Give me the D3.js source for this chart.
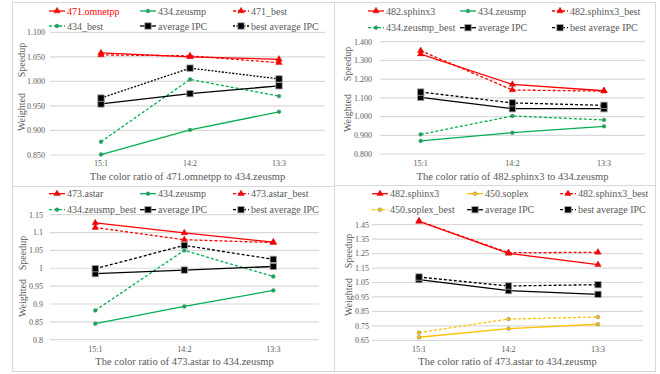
<!DOCTYPE html>
<html>
<head>
<meta charset="utf-8">
<script src="https://cdn.jsdelivr.net/npm/d3@7/dist/d3.min.js"></script>
<style>
  body { margin: 0; background: #fff; }
</style>
</head>
<body>
<svg id="chart" width="660" height="374"></svg>
<script>
// categories shared by all four panels
const cats = ['15:1', '14:2', '13:3'];

// panel 1: 471.omnetpp vs 434.zeusmp
const p1Omnetpp = [1.058, 1.050, 1.045];
const p1Zeusmp = [0.851, 0.901, 0.938];
const p1OmnetppBest = [1.054, 1.052, 1.038];
const p1ZeusmpBest = [0.877, 1.004, 0.970];
const p1Avg = [0.954, 0.975, 0.991];
const p1BestAvg = [0.966, 1.027, 1.005];
const p1Ticks = [0.85, 0.9, 0.95, 1.0, 1.05, 1.1];

// panel 2: 482.sphinx3 vs 434.zeusmp
const p2Sphinx = [1.334, 1.172, 1.138];
const p2Zeusmp = [0.870, 0.914, 0.948];
const p2SphinxBest = [1.352, 1.142, 1.136];
const p2ZeusmpBest = [0.905, 1.003, 0.982];
const p2Avg = [1.103, 1.042, 1.042];
const p2BestAvg = [1.131, 1.073, 1.060];
const p2Ticks = [0.8, 0.9, 1.0, 1.1, 1.2, 1.3, 1.4];

// panel 3: 473.astar vs 434.zeusmp
const p3Astar = [1.127, 1.099, 1.073];
const p3Zeusmp = [0.845, 0.893, 0.938];
const p3AstarBest = [1.114, 1.080, 1.072];
const p3ZeusmpBest = [0.882, 1.050, 0.977];
const p3Avg = [0.985, 0.995, 1.005];
const p3BestAvg = [0.999, 1.064, 1.025];
const p3Ticks = [0.8, 0.85, 0.9, 0.95, 1.0, 1.05, 1.1, 1.15];

// panel 4: 482.sphinx3 vs 450.soplex
const p4Sphinx = [1.473, 1.252, 1.173];
const p4Soplex = [0.671, 0.731, 0.761];
const p4SphinxBest = [1.475, 1.256, 1.259];
const p4SoplexBest = [0.703, 0.797, 0.811];
const p4Avg = [1.070, 0.994, 0.968];
const p4BestAvg = [1.088, 1.026, 1.035];
const p4Ticks = [0.65, 0.75, 0.85, 0.95, 1.05, 1.15, 1.25, 1.35, 1.45];

const RED = '#ff0000', GREEN = '#00b050', YELLOW = '#ffc000', BLACK = '#000000';
const GRAY = '#595959';
const FONT = "'Liberation Serif', 'Times New Roman', serif";

const panels = [
  {
    box: [12, 2, 322, 184], grid: [50, 325], cat: [101, 279], y: [155, 32.3],
    ticks: p1Ticks, fmt: d3.format('.3f'), tickX: 45, catY: 166, titleY: 180,
    yTitleX: 21, weightedY: 112, speedupY: 60,
    title: 'The color ratio of 471.omnetpp to 434.zeusmp',
    legX: [49, 140, 233], legY: [11, 26],
    series: [
      { name: '471.omnetpp', values: p1Omnetpp, color: RED, dash: null, mark: 'tri', labelColor: RED },
      { name: '434.zeusmp', values: p1Zeusmp, color: GREEN, dash: null, mark: 'dot' },
      { name: '471_best', values: p1OmnetppBest, color: RED, dash: '3,2', mark: 'tri' },
      { name: '434_best', values: p1ZeusmpBest, color: GREEN, dash: '3,2', mark: 'dot' },
      { name: 'average IPC', values: p1Avg, color: BLACK, dash: null, mark: 'sq' },
      { name: 'best average IPC', values: p1BestAvg, color: BLACK, dash: '2,1.5', mark: 'sq' }
    ]
  },
  {
    box: [334, 2, 321, 183], grid: [380, 645], cat: [420.7, 604], y: [154, 41.7],
    ticks: p2Ticks, fmt: d3.format('.3f'), tickX: 372, catY: 166, titleY: 180,
    yTitleX: 347, weightedY: 113, speedupY: 64,
    title: 'The color ratio of 482.sphinx3 to 434.zeusmp',
    legX: [368, 460, 552], legY: [11, 27.7],
    series: [
      { name: '482.sphinx3', values: p2Sphinx, color: RED, dash: null, mark: 'tri' },
      { name: '434.zeusmp', values: p2Zeusmp, color: GREEN, dash: null, mark: 'dot' },
      { name: '482.sphinx3_best', values: p2SphinxBest, color: RED, dash: '3,2', mark: 'tri' },
      { name: '434.zeusmp_best', values: p2ZeusmpBest, color: GREEN, dash: '3,2', mark: 'dot' },
      { name: 'average IPC', values: p2Avg, color: BLACK, dash: null, mark: 'sq' },
      { name: 'best average IPC', values: p2BestAvg, color: BLACK, dash: '3,2', mark: 'sq' }
    ]
  },
  {
    box: [12, 186, 322, 185], grid: [50, 319], cat: [95.3, 273.3], y: [339.7, 214.7],
    ticks: p3Ticks, fmt: d => String(+d.toFixed(2)), tickX: 43, catY: 352, titleY: 365,
    yTitleX: 22, weightedY: 298, speedupY: 253,
    title: 'The color ratio of 473.astar to 434.zeusmp',
    legX: [49, 140, 233], legY: [193.7, 209.7],
    series: [
      { name: '473.astar', values: p3Astar, color: RED, dash: null, mark: 'tri' },
      { name: '434.zeusmp', values: p3Zeusmp, color: GREEN, dash: null, mark: 'dot' },
      { name: '473.astar_best', values: p3AstarBest, color: RED, dash: '3,2', mark: 'tri' },
      { name: '434.zeusmp_best', values: p3ZeusmpBest, color: GREEN, dash: '3,2', mark: 'dot' },
      { name: 'average IPC', values: p3Avg, color: BLACK, dash: null, mark: 'sq' },
      { name: 'best average IPC', values: p3BestAvg, color: BLACK, dash: '3,2', mark: 'sq' }
    ]
  },
  {
    box: [334, 185, 321, 186], grid: [372, 643], cat: [419, 598], y: [340.3, 224.7],
    ticks: p4Ticks, fmt: d3.format('.2f'), tickX: 369, catY: 352, titleY: 365,
    yTitleX: 348, weightedY: 297, speedupY: 251,
    title: 'The color ratio of 473.astar to 434.zeusmp',
    legX: [372, 467, 560], legY: [193.7, 209.7],
    series: [
      { name: '482.sphinx3', values: p4Sphinx, color: RED, dash: null, mark: 'tri' },
      { name: '450.soplex', values: p4Soplex, color: YELLOW, dash: null, mark: 'dot' },
      { name: '482.sphinx3_best', values: p4SphinxBest, color: RED, dash: '3,2', mark: 'tri' },
      { name: '450.soplex_best', values: p4SoplexBest, color: YELLOW, dash: '3,2', mark: 'dot' },
      { name: 'average IPC', values: p4Avg, color: BLACK, dash: null, mark: 'sq' },
      { name: 'best average IPC', values: p4BestAvg, color: BLACK, dash: '3,2', mark: 'sq' }
    ]
  }
];

const svg = d3.select('#chart');

function drawMarker(g, s, x, y) {
  if (s.mark === 'tri') {
    g.append('path')
      .attr('d', d3.symbol(d3.symbolTriangle, 18)())
      .attr('transform', `translate(${x},${y})`)
      .attr('fill', s.color)
      .attr('stroke', '#c00000')
      .attr('stroke-width', 0.4);
  } else if (s.mark === 'dot') {
    g.append('circle')
      .attr('cx', x).attr('cy', y).attr('r', 1.9)
      .attr('fill', s.color)
      .attr('stroke', '#7f7f7f')
      .attr('stroke-width', 0.5);
  } else {
    g.append('rect')
      .attr('x', x - 3.2).attr('y', y - 3.2)
      .attr('width', 6.4).attr('height', 6.4)
      .attr('fill', '#000')
      .attr('stroke', '#a6a6a6')
      .attr('stroke-width', 0.8);
  }
}

panels.forEach(p => {
  const g = svg.append('g');

  // panel border
  g.append('rect')
    .attr('x', p.box[0] + 0.5).attr('y', p.box[1] + 0.5)
    .attr('width', p.box[2]).attr('height', p.box[3])
    .attr('fill', 'none')
    .attr('stroke', '#d9d9d9');

  const x = d3.scalePoint().domain(cats).range(p.cat);
  const y = d3.scaleLinear()
    .domain([p.ticks[0], p.ticks[p.ticks.length - 1]])
    .range(p.y);

  // gridlines
  g.selectAll('.grid')
    .data(p.ticks)
    .enter()
    .append('line')
    .attr('x1', p.grid[0]).attr('x2', p.grid[1])
    .attr('y1', d => y(d)).attr('y2', d => y(d))
    .attr('stroke', '#d9d9d9')
    .attr('stroke-width', 1.2);

  // y tick labels
  g.selectAll('.ytick')
    .data(p.ticks)
    .enter()
    .append('text')
    .attr('x', p.tickX)
    .attr('y', d => y(d))
    .attr('dy', '0.35em')
    .attr('text-anchor', 'end')
    .attr('fill', GRAY)
    .style('font-family', FONT)
    .style('font-size', '8px')
    .text(p.fmt);

  // category labels
  g.selectAll('.xtick')
    .data(cats)
    .enter()
    .append('text')
    .attr('x', d => x(d))
    .attr('y', p.catY)
    .attr('text-anchor', 'middle')
    .attr('fill', GRAY)
    .style('font-family', FONT)
    .style('font-size', '8px')
    .text(d => d);

  // x axis title
  g.append('text')
    .attr('x', (p.grid[0] + p.grid[1]) / 2)
    .attr('y', p.titleY)
    .attr('text-anchor', 'middle')
    .attr('fill', GRAY)
    .style('font-family', FONT)
    .style('font-size', '10.5px')
    .text(p.title);

  // y axis title, split like the original
  [['Weighted', p.weightedY], ['Speedup', p.speedupY]].forEach(([t, cy]) => {
    g.append('text')
      .attr('transform', `translate(${p.yTitleX},${cy}) rotate(-90)`)
      .attr('dy', '0.35em')
      .attr('text-anchor', 'middle')
      .attr('fill', GRAY)
      .style('font-family', FONT)
      .style('font-size', '10px')
      .text(t);
  });

  // series lines + markers
  const line = d3.line()
    .x((d, i) => x(cats[i]))
    .y(d => y(d));

  p.series.forEach(s => {
    g.append('path')
      .datum(s.values)
      .attr('d', line)
      .attr('fill', 'none')
      .attr('stroke', s.color)
      .attr('stroke-width', 1.3)
      .attr('stroke-dasharray', s.dash);
    s.values.forEach((v, i) => drawMarker(g, s, x(cats[i]), y(v)));
  });

  // legend: 3 columns, 2 rows
  p.series.forEach((s, i) => {
    const lx = p.legX[i % 3];
    const ly = p.legY[Math.floor(i / 3)];
    g.append('line')
      .attr('x1', lx).attr('x2', lx + 16)
      .attr('y1', ly).attr('y2', ly)
      .attr('stroke', s.color)
      .attr('stroke-width', 1.3)
      .attr('stroke-dasharray', s.dash);
    drawMarker(g, s, lx + 8, ly);
    g.append('text')
      .attr('x', lx + 18)
      .attr('y', ly)
      .attr('dy', '0.35em')
      .attr('fill', s.labelColor || GRAY)
      .style('font-family', FONT)
      .style('font-size', '10px')
      .text(s.name);
  });
});
</script>
</body>
</html>
